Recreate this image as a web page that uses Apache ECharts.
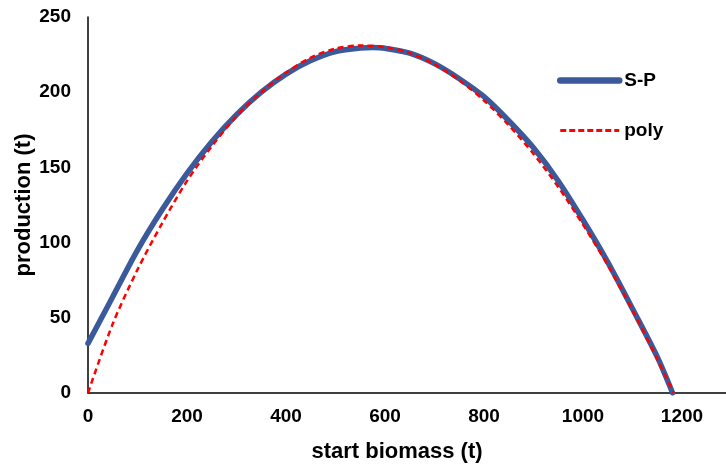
<!DOCTYPE html>
<html>
<head>
<meta charset="utf-8">
<script src="https://cdn.jsdelivr.net/npm/echarts@6/dist/echarts.min.js"></script>
<style>
html,body{margin:0;padding:0;background:#fff;}
#chart{width:726px;height:468px;}
</style>
</head>
<body>
<div id="chart"></div>
<script>
// Data
var spBiomass   = [0, 50, 100, 150, 200, 250, 300, 350, 400, 450, 500, 550, 575, 600, 650, 700, 750, 800, 850, 900, 950, 1000, 1050, 1100, 1150, 1181];
var spProd      = [33, 64, 95, 122, 146, 167, 185, 200, 212, 221, 227, 229.3, 229.7, 229.2, 226, 219, 209, 197, 181, 163, 141, 115, 87, 56, 24, 0];
var polyBiomass = [0, 50, 100, 150, 200, 250, 300, 350, 400, 450, 500, 550, 600, 650, 700, 750, 800, 850, 900, 950, 1000, 1050, 1100, 1150, 1183];
var polyProd    = [0, 46, 82, 113, 141, 164, 184, 200, 213, 223, 229, 231, 230, 226, 218.5, 208, 194.5, 178, 159, 137, 112, 85, 55, 22.5, 0];
var xTicks = { min: 0, max: 1400, interval: 200, lastShown: 1200 };
var yTicks = { min: 0, max: 250, interval: 50 };
var seriesNames = ['S-P', 'poly'];
var xTitle = 'start biomass (t)';
var yTitle = 'production (t)';

function pairs(xs, ys) { return xs.map(function (x, i) { return [x, ys[i]]; }); }

var font = 'Liberation Sans, Arial, sans-serif';
var blue = '#3B5A9B';
var red = '#FF0000';
var chart = echarts.init(document.getElementById('chart'), null, { renderer: 'canvas' });
chart.setOption({
  animation: false,
  backgroundColor: '#ffffff',
  grid: { left: 88, top: 17, width: 693, height: 376, containLabel: false, outerBoundsMode: 'none' },
  legend: {
    orient: 'vertical',
    left: 552,
    top: 66,
    itemWidth: 59,
    itemHeight: 14,
    itemGap: 31,
    itemStyle: { opacity: 0 },
    textStyle: { fontFamily: font, fontSize: 19, fontWeight: 'bold', color: '#000' },
    data: [
      { name: seriesNames[0], lineStyle: { color: blue, width: 6.5, cap: 'round' } },
      { name: seriesNames[1], lineStyle: { color: red, width: 3, type: [6, 3] } }
    ]
  },
  xAxis: {
    type: 'value',
    min: xTicks.min, max: xTicks.max, interval: xTicks.interval,
    name: xTitle,
    nameLocation: 'middle',
    nameGap: 48,
    nameMoveOverlap: false,
    nameTextStyle: { fontFamily: font, fontSize: 22, fontWeight: 'bold', color: '#000', padding: [0, 75, 0, 0] },
    axisLine: { show: true, lineStyle: { color: '#000', width: 1.5 } },
    axisTick: { show: false },
    splitLine: { show: false },
    axisLabel: {
      fontFamily: font, fontSize: 19, fontWeight: 'bold', color: '#000', margin: 14,
      formatter: function (v) { return v > xTicks.lastShown ? '' : String(v); }
    }
  },
  yAxis: {
    type: 'value',
    min: yTicks.min, max: yTicks.max, interval: yTicks.interval,
    name: yTitle,
    nameLocation: 'middle',
    nameGap: 53,
    nameMoveOverlap: false,
    nameTextStyle: { fontFamily: font, fontSize: 22, fontWeight: 'bold', color: '#000' },
    axisLine: { show: true, lineStyle: { color: '#000', width: 1.5 } },
    axisTick: { show: false },
    splitLine: { show: false },
    axisLabel: {
      fontFamily: font, fontSize: 19, fontWeight: 'bold', color: '#000', margin: 17,
      formatter: function (v) { return String(v); }
    }
  },
  series: [
    {
      name: seriesNames[0],
      type: 'line',
      data: pairs(spBiomass, spProd),
      smooth: 0.3,
      showSymbol: false,
      symbol: 'none',
      lineStyle: { color: blue, width: 5.5, cap: 'round' },
      itemStyle: { color: blue },
      z: 2
    },
    {
      name: seriesNames[1],
      type: 'line',
      data: pairs(polyBiomass, polyProd),
      smooth: 0.3,
      showSymbol: false,
      symbol: 'none',
      lineStyle: { color: red, width: 2.5, type: [6, 4] },
      itemStyle: { color: red },
      z: 3
    }
  ]
});
</script>
</body>
</html>
